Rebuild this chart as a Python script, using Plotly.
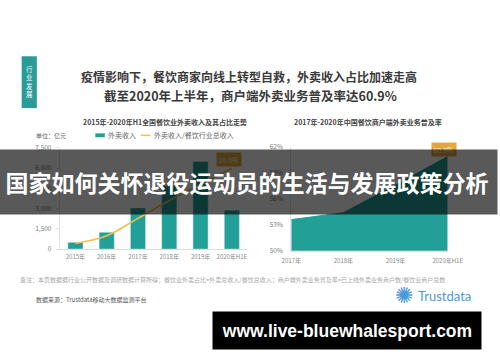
import plotly.graph_objects as go

# ---------------- data ----------------
years1 = ["2015年", "2016年", "2017年", "2018年", "2019年", "2020年H1E"]
revenue = [500, 1250, 3050, 4700, 6500, 2880]          # 外卖收入 (亿元)
share = [1.4, 3.3, 7.6, 12.0, 16.0, 20.0]              # 外卖收入/餐饮行业总收入 (%)
y1_ticks = [0, 1500, 3000, 4500, 6000, 7500]

years2 = ["2017年", "2018年", "2019年", "2020年H1E"]
penetration = [53.6, 54.4, 57.6, 60.9]                 # 商户端外卖业务普及率 (%)
y3_ticks = [50, 53, 56, 59, 62]

W, H = 500, 362
def px(x): return x / W
def py(y): return 1 - y / H

TEAL = "#22a097"
GOLD = "#f0c04a"
CJK = "Noto Sans CJK SC"

fig = go.Figure()
fig.add_trace(go.Bar(x=years1, y=revenue, marker_color=TEAL, width=0.485,
                     xaxis="x", yaxis="y", name="外卖收入"))
fig.add_trace(go.Scatter(x=years1, y=share, mode="lines",
                         line=dict(color=GOLD, width=1.6, shape="spline"),
                         xaxis="x", yaxis="y2", name="外卖收入/餐饮行业总收入"))
fig.add_trace(go.Scatter(x=years2, y=penetration, mode="lines", fill="tozeroy",
                         fillcolor=TEAL, line=dict(color=TEAL, width=1),
                         xaxis="x2", yaxis="y3", name="普及率"))

axfont = dict(family=CJK, size=6, color="#8a8a8a")
fig.update_layout(
    width=W, height=H, margin=dict(l=0, r=0, t=0, b=0),
    paper_bgcolor="white", plot_bgcolor="rgba(0,0,0,0)",
    showlegend=False,
    xaxis=dict(domain=[px(52.5), px(250.5)], anchor="y", type="category",
               range=[-0.5, 5.5], showline=True, linecolor="#dcdcdc", linewidth=1,
               ticks="", tickfont=axfont, ticklabelstandoff=2, showgrid=False),
    yaxis=dict(domain=[py(250), py(146)], range=[0, 7500], tickvals=y1_ticks,
               tickformat=",", showline=True, linecolor="#e2e2e2", showgrid=False,
               zeroline=False, ticks="outside", ticklen=3, tickcolor="#e2e2e2",
               tickfont=dict(family=CJK, size=6.5, color="#7a7a7a"), ticklabelstandoff=3),
    yaxis2=dict(overlaying="y", range=[0, 25], visible=False),
    xaxis2=dict(domain=[px(296.7), px(461.7)], anchor="y3", type="category",
                range=[0, 3], showline=True, linecolor="#e2e2e2", ticks="",
                tickfont=axfont, ticklabelstandoff=4, showgrid=False),
    yaxis3=dict(domain=[py(251.7), py(145)], anchor="x2", range=[50, 62],
                tickvals=y3_ticks, ticktext=[f"{v}%" for v in y3_ticks],
                showline=True, linecolor="#e2e2e2",
                showgrid=False, zeroline=False, ticks="",
                tickfont=dict(family=CJK, size=6.5, color="#7a7a7a"), ticklabelstandoff=6),
)

shapes = [
    # side tab
    dict(type="rect", xref="paper", yref="paper", x0=px(12.3), x1=px(28.3),
         y0=py(105), y1=py(51.7), fillcolor="#2a9b98", line=dict(width=0), layer="below"),
    # legend swatches
    dict(type="rect", xref="paper", yref="paper", x0=px(90), x1=px(100),
         y0=py(135), y1=py(131), fillcolor=TEAL, line=dict(width=0)),
    dict(type="line", xref="paper", yref="paper", x0=px(138), x1=px(148),
         y0=py(133), y1=py(133), line=dict(color=GOLD, width=1.5)),
]
fig.update_layout(shapes=shapes)

ann = []
def A(x, y, text, size, color="#333", family=CJK, **kw):
    d = dict(x=px(x), y=py(y), xref="paper", yref="paper", text=text, showarrow=False,
             font=dict(family=family, size=size, color=color), xanchor="center", yanchor="middle")
    d.update(kw)
    ann.append(d)

A(20.3, 78, "行<br>业<br>发<br>展", 6.5, "white")
A(252.5, 73, "<b>疫情影响下，餐饮商家向线上转型自救，外卖收入占比加速走高</b>", 12, "#3a3a3a")
A(253.5, 92, "<b>截至2020年上半年，商户端外卖业务普及率达60.9%</b>", 12.5, "#3a3a3a")
A(163, 119, "<b>2015年-2020年H1全国餐饮业外卖收入及其占比走势</b>", 7, "#444")
A(377.5, 119, "<b>2017年-2020年中国餐饮商户端外卖业务普及率</b>", 7, "#444")
A(25, 133, "单位：亿元", 6, "#666", xanchor="left")
A(101, 133, "外卖收入", 7, "#666", xanchor="left")
A(150, 133, "外卖收入/餐饮行业总收入", 7, "#666", xanchor="left")

# data labels (drawn before banner so banner covers them)
ann.append(dict(x=years1[-1], y=share[-1], xref="x", yref="y2", text=f"{share[-1]:.1f}%",
                showarrow=False, font=dict(family=CJK, size=7, color="white"),
                bgcolor="#e2a93f", borderpad=1.5, xshift=-3, yshift=9))
ann.append(dict(x=years2[-1], y=penetration[-1], xref="x2", yref="y3", text=f"{penetration[-1]:.1f}%",
                showarrow=False, font=dict(family=CJK, size=7, color="white"),
                bgcolor="#e2a93f", borderpad=1.5, xshift=-4, yshift=7))

A(235, 281, "备注：本页数据据行业公开数据及调研数据计算所得；餐饮业外卖占比=外卖总收入/餐饮总收入；商户端外卖业务普及率=已上线外卖业务商户数/餐饮业商户总数",
  6, "#a8a8a8")
A(25, 302, "数据来源：Trustdata移动大数据监测平台", 6, "#555", xanchor="left")
A(416, 298, "✺", 22, "#4a9ad8", family="DejaVu Sans")
A(428, 298, "Trustdata", 13, "#4a9ad8", family="Lato", xanchor="left")

# banner over everything
A(250, 181, "<b>国家如何关怀退役运动员的生活与发展政策分析</b>", 23, "white",
  bgcolor="rgba(0,0,0,0.65)", width=500, height=64, borderpad=0)
A(356, 333.5, "<b>www.live-bluewhalesport.com</b>", 17.5, "white", family="Liberation Sans",
  bgcolor="black", width=268, height=37, borderpad=0)

fig.update_layout(annotations=ann)
fig.write_html("out.html")
